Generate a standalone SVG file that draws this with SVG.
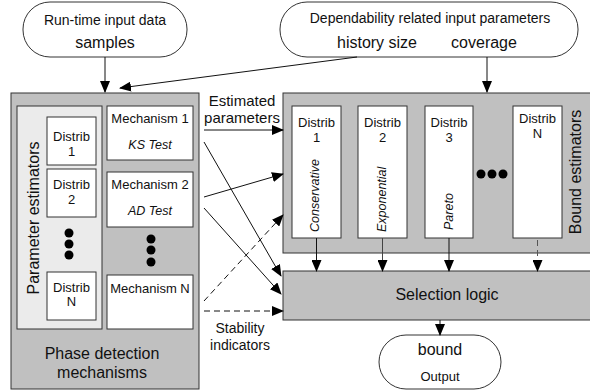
<svg xmlns="http://www.w3.org/2000/svg" width="590" height="392" viewBox="0 0 590 392">
<style>
text{font-family:"Liberation Sans",Arial,sans-serif;fill:#111;dominant-baseline:central;text-anchor:middle}
.gray{fill:#c0c0c0;stroke:#333;stroke-width:1}
.light{fill:#ebebeb;stroke:#333;stroke-width:1}
.white{fill:#fff;stroke:#333;stroke-width:1}
.f13{font-size:13px}
.f14{font-size:14px}
.f15{font-size:15px}
.f16{font-size:16px}
.it{font-style:italic;font-size:12.5px}
.ln{stroke:#111;stroke-width:1;fill:none}
.dash{stroke-dasharray:6,4}
.dot{fill:#000}
</style>
<defs>
<marker id="ah" markerWidth="12" markerHeight="10" refX="11" refY="5" orient="auto" markerUnits="userSpaceOnUse">
<path d="M0,0 L12,5 L0,10 Z" fill="#000"/>
</marker>
</defs>

<g id="runtime">
<rect x="23" y="2" width="164" height="55" rx="27" class="white"/>
<text x="105" y="20" class="f14">Run-time input data</text>
<text x="105" y="42" class="f16">samples</text>
</g>

<g id="dependability">
<rect x="280" y="2" width="298" height="55" rx="27" class="white"/>
<text x="430" y="18" class="f14">Dependability related input parameters</text>
<text x="377" y="42" class="f16">history size</text>
<text x="484" y="42" class="f16">coverage</text>
</g>

<g id="phase-detection">
<rect x="11" y="93" width="188" height="296" class="gray"/>
<text x="102" y="353" class="f16">Phase detection</text>
<text x="102" y="372" class="f16">mechanisms</text>
</g>

<g id="parameter-estimators">
<rect x="17" y="106" width="85" height="223" class="light"/>
<text x="33" y="218" class="f16" transform="rotate(-90 33 218)">Parameter estimators</text>
<g id="pe-distrib1">
<rect x="47" y="117" width="49" height="48" class="white"/>
<text x="71.5" y="136" class="f13">Distrib</text>
<text x="71.5" y="151" class="f13">1</text>
</g>
<g id="pe-distrib2">
<rect x="47" y="169" width="49" height="48" class="white"/>
<text x="71.5" y="184" class="f13">Distrib</text>
<text x="71.5" y="199" class="f13">2</text>
</g>
<circle cx="69" cy="233" r="4.5" class="dot"/>
<circle cx="69" cy="244" r="4.5" class="dot"/>
<circle cx="69" cy="255" r="4.5" class="dot"/>
<g id="pe-distribN">
<rect x="47" y="272" width="49" height="48" class="white"/>
<text x="71.5" y="287" class="f13">Distrib</text>
<text x="71.5" y="301" class="f13">N</text>
</g>
</g>

<g id="mechanism1">
<rect x="107" y="106" width="86" height="54" class="white"/>
<text x="150" y="118" class="f13">Mechanism 1</text>
<text x="150" y="145" class="it">KS Test</text>
</g>
<g id="mechanism2">
<rect x="107" y="172" width="86" height="55" class="white"/>
<text x="150" y="184" class="f13">Mechanism 2</text>
<text x="150" y="211" class="it">AD Test</text>
</g>
<circle cx="151" cy="239" r="4.5" class="dot"/>
<circle cx="151" cy="250" r="4.5" class="dot"/>
<circle cx="151" cy="262" r="4.5" class="dot"/>
<g id="mechanismN">
<rect x="107" y="275" width="86" height="54" class="white"/>
<text x="150" y="288" class="f13">Mechanism N</text>
</g>

<g id="bound-estimators">
<rect x="283" y="93" width="320" height="160" class="gray"/>
<text x="575" y="172" class="f16" transform="rotate(-90 575 172)">Bound estimators</text>
<g id="be-distrib1">
<rect x="292" y="106" width="49" height="132" class="white"/>
<text x="316.5" y="122" class="f13">Distrib</text>
<text x="316.5" y="137" class="f13">1</text>
<text x="315" y="232" class="it" style="text-anchor:start" transform="rotate(-90 315 232)">Conservative</text>
</g>
<g id="be-distrib2">
<rect x="358" y="106" width="49" height="132" class="white"/>
<text x="382.5" y="122" class="f13">Distrib</text>
<text x="382.5" y="137" class="f13">2</text>
<text x="382" y="232" class="it" style="text-anchor:start" transform="rotate(-90 382 232)">Exponential</text>
</g>
<g id="be-distrib3">
<rect x="425" y="106" width="48" height="132" class="white"/>
<text x="449" y="122" class="f13">Distrib</text>
<text x="449" y="137" class="f13">3</text>
<text x="449" y="230" class="it" style="text-anchor:start" transform="rotate(-90 449 230)">Pareto</text>
</g>
<circle cx="481" cy="174" r="4.5" class="dot"/>
<circle cx="492" cy="174" r="4.5" class="dot"/>
<circle cx="503" cy="174" r="4.5" class="dot"/>
<g id="be-distribN">
<rect x="513" y="106" width="49" height="132" class="white"/>
<text x="537.5" y="118" class="f13">Distrib</text>
<text x="537.5" y="133" class="f13">N</text>
</g>
</g>

<g id="selection-logic">
<rect x="283" y="271" width="320" height="49" class="gray"/>
<text x="447" y="294" class="f16">Selection logic</text>
</g>

<g id="output">
<rect x="379" y="335" width="122" height="54" rx="27" class="white"/>
<text x="440" y="349" class="f16">bound</text>
<text x="440" y="376" class="f13">Output</text>
</g>

<g id="labels">
<text x="242" y="100" class="f15">Estimated</text>
<text x="242" y="117" class="f15">parameters</text>
<text x="240" y="328" class="f14">Stability</text>
<text x="240" y="345" class="f14">indicators</text>
</g>

<g id="connectors">
<line x1="105" y1="57" x2="105" y2="92" class="ln" marker-end="url(#ah)"/>
<line x1="357" y1="57" x2="120" y2="88" class="ln" marker-end="url(#ah)"/>
<line x1="487" y1="57" x2="487" y2="92" class="ln" marker-end="url(#ah)"/>
<line x1="204" y1="130" x2="283" y2="130" class="ln" marker-end="url(#ah)"/>
<line x1="204" y1="142" x2="281" y2="276" class="ln" marker-end="url(#ah)"/>
<line x1="204" y1="197" x2="283" y2="174" class="ln" marker-end="url(#ah)"/>
<line x1="204" y1="208" x2="281" y2="294" class="ln" marker-end="url(#ah)"/>
<line x1="204" y1="301" x2="283" y2="215" class="ln dash" marker-end="url(#ah)"/>
<line x1="204" y1="311" x2="283" y2="311" class="ln dash" marker-end="url(#ah)"/>
<line x1="316.5" y1="238" x2="316.5" y2="271" class="ln" marker-end="url(#ah)"/>
<line x1="382.5" y1="238" x2="382.5" y2="271" class="ln" style="stroke:#444" marker-end="url(#ah)"/>
<line x1="449" y1="238" x2="449" y2="271" class="ln" marker-end="url(#ah)"/>
<line x1="537.5" y1="240" x2="537.5" y2="271" class="ln dash" style="stroke:#555" marker-end="url(#ah)"/>
<line x1="440" y1="320" x2="440" y2="335" class="ln" marker-end="url(#ah)"/>
</g>
</svg>
